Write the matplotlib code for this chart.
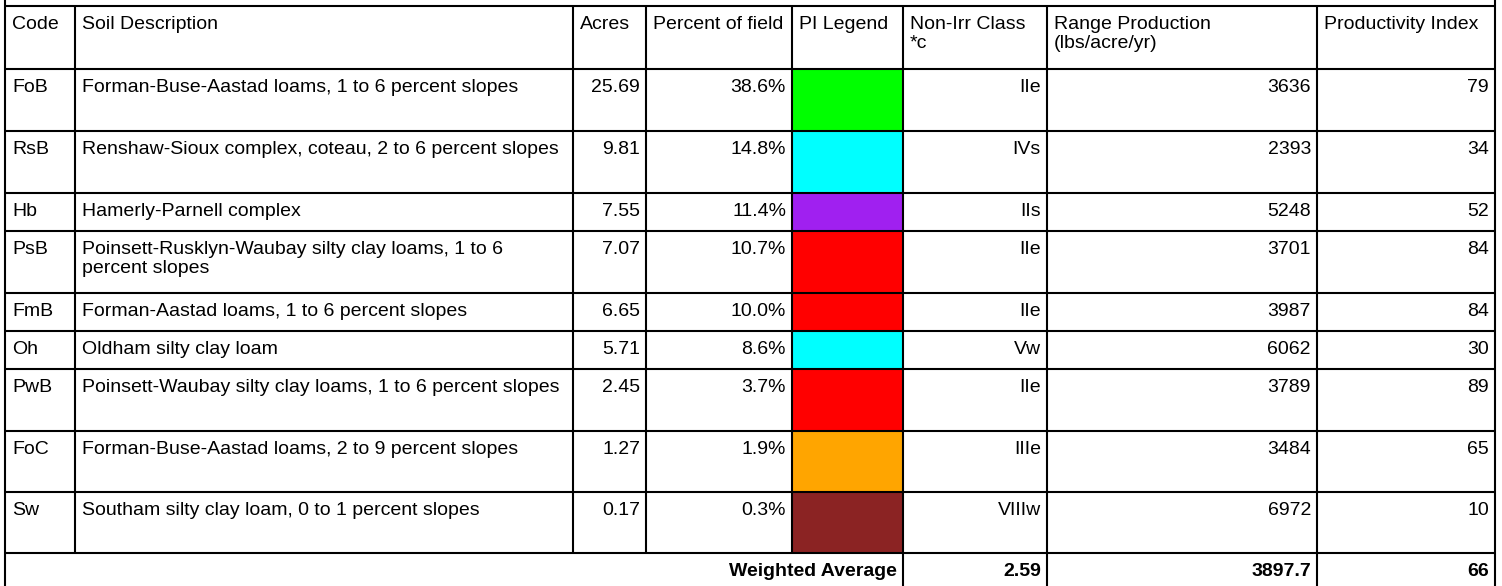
import matplotlib
matplotlib.use("Agg")
import matplotlib.pyplot as plt
from matplotlib.patches import Rectangle

# ---- data ----
headers = ["Code", "Soil Description", "Acres", "Percent of field", "PI Legend",
           "Non-Irr Class\n*c", "Range Production\n(lbs/acre/yr)", "Productivity Index"]
codes = ["FoB", "RsB", "Hb", "PsB", "FmB", "Oh", "PwB", "FoC", "Sw"]
descriptions = [
    "Forman-Buse-Aastad loams, 1 to 6 percent slopes",
    "Renshaw-Sioux complex, coteau, 2 to 6 percent slopes",
    "Hamerly-Parnell complex",
    "Poinsett-Rusklyn-Waubay silty clay loams, 1 to 6\npercent slopes",
    "Forman-Aastad loams, 1 to 6 percent slopes",
    "Oldham silty clay loam",
    "Poinsett-Waubay silty clay loams, 1 to 6 percent slopes",
    "Forman-Buse-Aastad loams, 2 to 9 percent slopes",
    "Southam silty clay loam, 0 to 1 percent slopes",
]
acres = [25.69, 9.81, 7.55, 7.07, 6.65, 5.71, 2.45, 1.27, 0.17]
percent_of_field = [38.6, 14.8, 11.4, 10.7, 10.0, 8.6, 3.7, 1.9, 0.3]
pi_colors = ["#00FF00", "#00FFFF", "#A020F0", "#FF0000", "#FF0000",
             "#00FFFF", "#FF0000", "#FFA500", "#8B2323"]
non_irr_class = ["IIe", "IVs", "IIs", "IIe", "IIe", "Vw", "IIe", "IIIe", "VIIIw"]
range_production = [3636, 2393, 5248, 3701, 3987, 6062, 3789, 3484, 6972]
productivity_index = [79, 34, 52, 84, 84, 30, 89, 65, 10]
weighted_label = "Weighted Average"
weighted_class = "2.59"
weighted_range = "3897.7"
weighted_pi = "66"

# ---- layout (pixels) ----
col_edges = [5, 75, 573, 646, 792, 903, 1047, 1317, 1495]
top_y = 6
row_heights = [63, 62, 62, 38, 62, 38, 38, 62, 61, 61]   # header + data rows
bottom_y = 586
FS = 14.0
FAM = ["Liberation Sans", "DejaVu Sans"]
PADX = 7
PADY = 10
LW = 1.5
LS = 1.15

fig = plt.figure(figsize=(15.02, 5.86), dpi=100)
ax = fig.add_axes([0, 0, 1, 1])
ax.set_xlim(0, 1502)
ax.set_ylim(586, 0)
ax.axis("off")

row_tops = [top_y]
for h in row_heights:
    row_tops.append(row_tops[-1] + h)
wa_top = row_tops[-1]

# PI legend fills
for i, c in enumerate(pi_colors):
    y0 = row_tops[i + 1]
    y1 = row_tops[i + 2]
    ax.add_patch(Rectangle((col_edges[4], y0), col_edges[5] - col_edges[4], y1 - y0,
                           facecolor=c, edgecolor="none", zorder=1))

# header text
for j, h in enumerate(headers):
    ax.text(col_edges[j] + PADX, top_y + PADY, h, ha="left", va="top",
            fontsize=FS, family=FAM, linespacing=LS, zorder=3)

# data text
for i in range(len(codes)):
    y = row_tops[i + 1] + PADY
    ax.text(col_edges[0] + PADX, y, codes[i], ha="left", va="top", fontsize=FS, family=FAM, linespacing=LS, zorder=3)
    ax.text(col_edges[1] + PADX, y, descriptions[i], ha="left", va="top", fontsize=FS, family=FAM, linespacing=LS, zorder=3)
    vals = [f"{acres[i]:.2f}", f"{percent_of_field[i]:.1f}%", None,
            non_irr_class[i], f"{range_production[i]}", f"{productivity_index[i]}"]
    for k, v in enumerate(vals):
        if v is None:
            continue
        j = k + 2
        ax.text(col_edges[j + 1] - PADX + 1, y, v, ha="right", va="top",
                fontsize=FS, family=FAM, zorder=3)

# weighted average row
y = wa_top + PADY
ax.text(col_edges[5] - PADX + 1, y, weighted_label, ha="right", va="top", fontsize=FS, family=FAM, weight="bold", zorder=3)
ax.text(col_edges[6] - PADX + 1, y, weighted_class, ha="right", va="top", fontsize=FS, family=FAM, weight="bold", zorder=3)
ax.text(col_edges[7] - PADX + 1, y, weighted_range, ha="right", va="top", fontsize=FS, family=FAM, weight="bold", zorder=3)
ax.text(col_edges[8] - PADX + 1, y, weighted_pi, ha="right", va="top", fontsize=FS, family=FAM, weight="bold", zorder=3)

# grid lines
ax.hlines(row_tops, col_edges[0], col_edges[-1], colors="black", lw=LW, zorder=4)
for x in col_edges[1:-1]:
    ax.vlines(x, top_y, wa_top, colors="black", lw=LW, zorder=4)
for x in col_edges[5:8]:
    ax.vlines(x, wa_top, bottom_y, colors="black", lw=LW, zorder=4)
ax.vlines([col_edges[0], col_edges[-1]], 0, bottom_y, colors="black", lw=LW, zorder=4)

fig.savefig("out.png", dpi=100)
